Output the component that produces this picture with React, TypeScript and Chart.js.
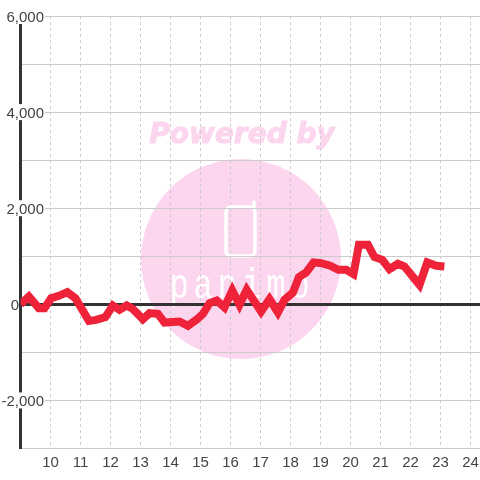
import React, { useEffect, useRef } from "react";
import { Chart, registerables } from "chart.js";

Chart.register(...registerables);

const hours = [9, 9.28, 9.61, 9.8, 10.02, 10.28, 10.56, 10.83, 11.28, 11.52, 11.83, 12.08, 12.3, 12.54, 12.74, 13.08, 13.3, 13.58, 13.8, 14.3, 14.58, 14.86, 15.08, 15.3, 15.54, 15.8, 16.06, 16.3, 16.54, 17.02, 17.3, 17.58, 17.8, 18.08, 18.28, 18.52, 18.77, 19.02, 19.3, 19.6, 19.86, 20.1, 20.28, 20.58, 20.8, 21.06, 21.3, 21.58, 21.8, 22.3, 22.56, 22.86, 23.13];
const values = [0, 163, -80, -80, 128, 177, 253, 128, -344, -323, -267, -24, -115, -24, -94, -309, -184, -198, -378, -358, -448, -323, -198, 24, 80, -66, 288, -10, 302, -149, 108, -170, 94, 246, 566, 663, 871, 858, 809, 719, 719, 628, 1239, 1239, 983, 927, 733, 844, 788, 406, 871, 802, 788];
const watermarkTitle = "Powered by";
const watermarkName = "panimo";

const PINK = "#fbd6ee";
const GRID = "#cccccc";
const DARK = "#333333";

const watermark = {
  id: "watermark",
  beforeDraw(chart: any) {
    const { ctx } = chart;
    ctx.save();
    ctx.fillStyle = PINK;
    ctx.beginPath();
    ctx.arc(241, 259, 100, 0, Math.PI * 2);
    ctx.fill();
    ctx.font = "italic bold 28px 'DejaVu Sans'";
    ctx.textAlign = "center";
    ctx.textBaseline = "middle";
    ctx.strokeStyle = PINK;
    ctx.lineWidth = 1;
    ctx.fillText(watermarkTitle, 242, 136);
    ctx.strokeText(watermarkTitle, 242, 136);
    ctx.strokeStyle = "#ffffff";
    ctx.lineWidth = 3.5;
    ctx.lineCap = "round";
    ctx.beginPath();
    ctx.roundRect(226, 207, 29, 49, 5);
    ctx.moveTo(254, 207);
    ctx.lineTo(254, 202);
    ctx.stroke();
    ctx.fillStyle = "#ffffff";
    ctx.translate(242, 287);
    ctx.scale(1, 1.35);
    (ctx as any).letterSpacing = "5px";
    ctx.font = "32px 'Liberation Mono'";
    ctx.fillText(watermarkName, 0, 0);
    ctx.restore();
  },
};

const labelBacks = {
  id: "labelBacks",
  beforeDatasetsDraw(chart: any) {
    const { ctx, scales } = chart;
    ctx.save();
    ctx.fillStyle = "#ffffff";
    for (const v of [6000, 4000, 2000, -2000]) {
      const y = scales.y.getPixelForValue(v);
      ctx.fillRect(0, y - 8, 45, 16);
    }
    ctx.restore();
  },
};

export default function App() {
  const ref = useRef<HTMLCanvasElement>(null);
  useEffect(() => {
    const chart = new Chart(ref.current!, {
      type: "line",
      data: {
        datasets: [
          {
            data: hours.map((h, i) => ({ x: h, y: values[i] })),
            borderColor: "#ee2238",
            borderWidth: 8,
            pointRadius: 0,
            tension: 0,
            borderJoinStyle: "miter",
          },
        ],
      },
      options: {
        animation: false,
        responsive: false,
        parsing: false,
        layout: { padding: { top: 16, left: 0, right: 0, bottom: 0 } },
        plugins: { legend: { display: false }, tooltip: { enabled: false } },
        scales: {
          x: {
            type: "linear",
            min: 9,
            max: 24.317,
            afterFit: (s: any) => {
              s.height = 31.5;
              s.paddingRight = 0;
              s.paddingLeft = 0;
            },
            grid: { color: GRID, lineWidth: 1, drawTicks: false },
            border: { color: GRID, width: 1, dash: [3, 3] },
            ticks: {
              stepSize: 1,
              includeBounds: false,
              autoSkip: false,
              maxRotation: 0,
              padding: 5,
              color: "#444444",
              font: { family: "'Liberation Sans'", size: 15 },
              callback: (v: any) => (v >= 10 ? String(v) : ""),
            },
          },
          y: {
            min: -3000,
            max: 6000,
            afterFit: (s: any) => {
              s.width = 20.5;
              s._computeLabelArea = () => undefined;
            },
            grid: {
              drawTicks: false,
              color: (c: any) => (c.tick.value === 0 ? DARK : GRID),
              lineWidth: (c: any) => (c.tick.value === 0 ? 3 : 1),
            },
            border: { color: DARK, width: 3 },
            ticks: {
              stepSize: 1000,
              autoSkip: false,
              z: 1,
              padding: -23.5,
              labelOffset: 1.5,
              color: "#444444",
              font: { family: "'Liberation Sans'", size: 15 },
              callback: (v: any) => {
                if (v === 0) return "0      ";
                return v % 2000 === 0 ? v.toLocaleString("en-US") : "";
              },
            },
          },
        },
      },
      plugins: [watermark, labelBacks],
    } as any);
    return () => chart.destroy();
  }, []);
  return (
    <div style={{ position: "fixed", left: 0, top: 0, width: 480, height: 480, background: "#fff" }}>
      <canvas ref={ref} width={480} height={480} style={{ display: "block" }} />
    </div>
  );
}
